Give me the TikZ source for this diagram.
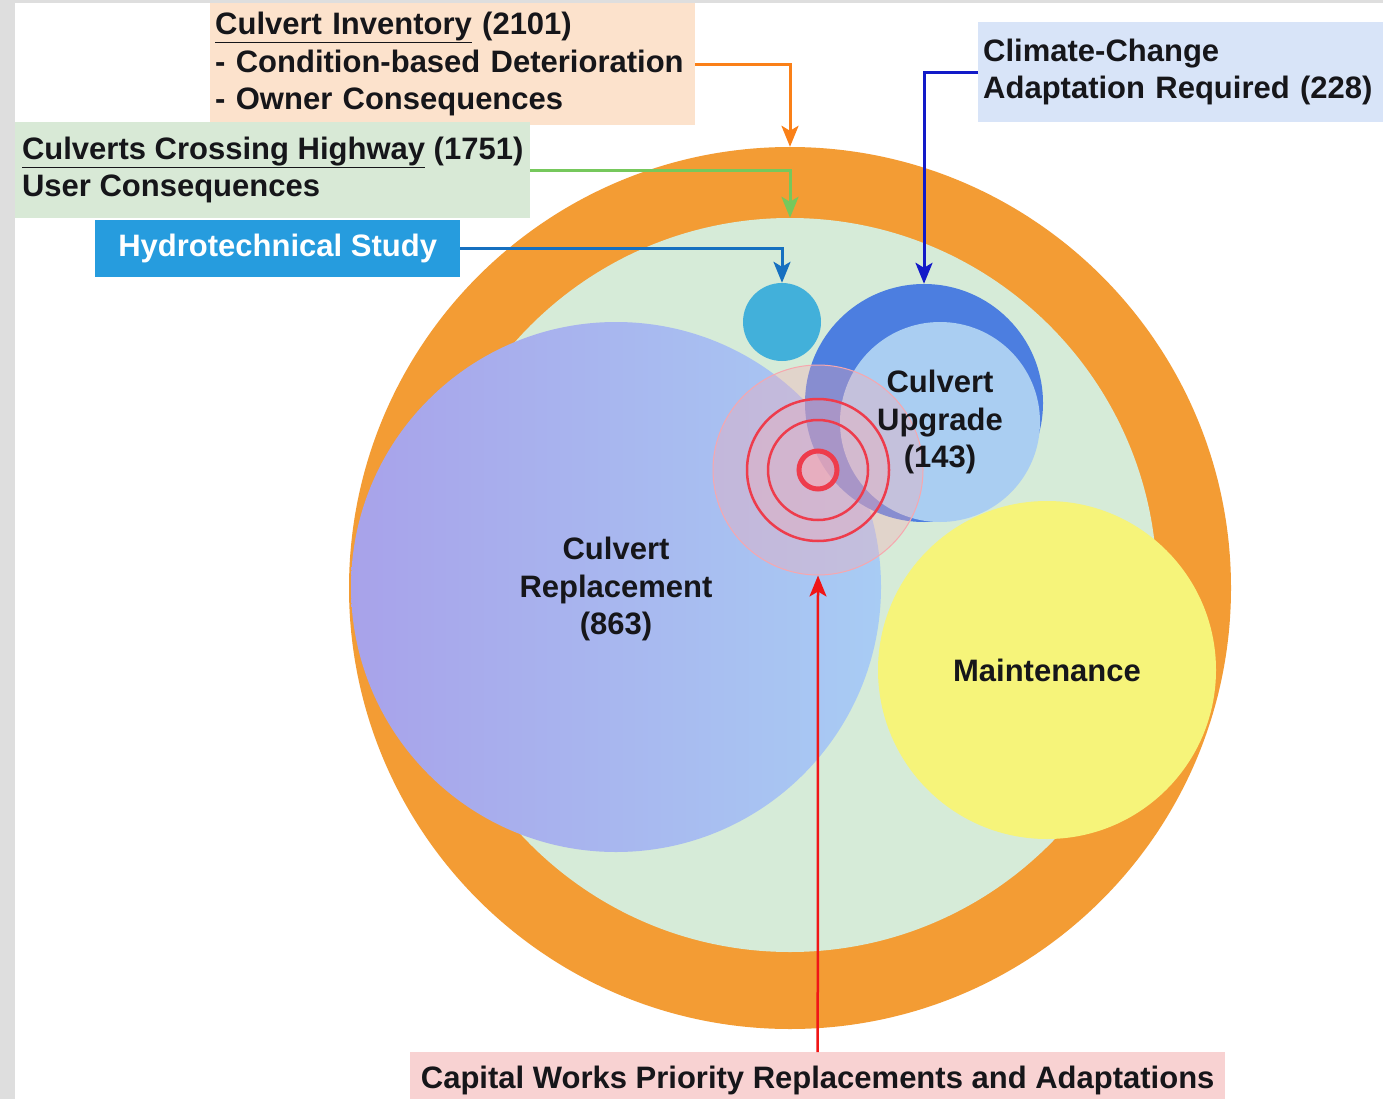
\documentclass[tikz,border=0pt]{standalone}
\usepackage{fontspec}
\setmainfont{Liberation Sans}
\usetikzlibrary{arrows.meta,positioning}
\definecolor{FrameGray}{RGB}{222,222,222}
\definecolor{LabelInk}{RGB}{22,22,26}
\definecolor{RingOrange}{RGB}{243,156,52}
\definecolor{MintGreen}{RGB}{214,235,216}
\definecolor{ReplaceLilac}{RGB}{168,162,234}
\definecolor{ReplaceSky}{RGB}{168,204,244}
\definecolor{HydroTeal}{RGB}{66,176,218}
\definecolor{UpgradeDeep}{RGB}{76,126,224}
\definecolor{UpgradeSoft}{RGB}{170,206,242}
\definecolor{MaintYellow}{RGB}{246,244,122}
\definecolor{GlowPink}{RGB}{246,170,180}
\definecolor{TargetRed}{RGB}{238,60,76}
\definecolor{InventoryPeach}{RGB}{252,226,204}
\definecolor{HighwayMint}{RGB}{216,233,214}
\definecolor{StudyBlue}{RGB}{38,156,222}
\definecolor{ClimateSky}{RGB}{216,228,248}
\definecolor{CapitalPink}{RGB}{248,210,210}
\definecolor{ArrowOrange}{RGB}{250,128,24}
\definecolor{ArrowGreen}{RGB}{118,200,92}
\definecolor{ArrowBlue}{RGB}{22,112,192}
\definecolor{ArrowNavy}{RGB}{18,26,200}
\definecolor{ArrowRed}{RGB}{240,22,22}
\tikzset{
  bubble/.style={circle,inner sep=0pt},
  tag/.style={inner sep=5pt,font=\bfseries\fontsize{31}{37.5}\selectfont,text=LabelInk},
  feed/.style={-{Stealth[length=21pt,width=17pt,inset=5pt]},line width=3pt},
}

\begin{document}
\begin{tikzpicture}[x=1pt,y=-1pt]
  \clip (0,0) rectangle (1383,1099);
  \fill[white] (0,0) rectangle (1383,1099);
  \fill[FrameGray] (0,0) rectangle (15,1099);
  \fill[FrameGray] (0,0) rectangle (1383,3);

  % nested sets, largest first
  \node[bubble,fill=RingOrange,minimum size=882] (ring) at (790,588) {};
  \node[bubble,fill=MintGreen,minimum size=734] (mint) at (790,585) {};
  \node[bubble,left color=ReplaceLilac,right color=ReplaceSky,minimum size=530] (replace) at (616,587) {};
  \node[bubble,fill=HydroTeal,minimum size=78] (hydro) at (782,322) {};
  \node[bubble,fill=UpgradeDeep,minimum size=238] (upring) at (924,403) {};
  \node[bubble,fill=UpgradeSoft,minimum size=200] (upgrade) at (940,422) {};
  \node[bubble,fill=MaintYellow,minimum size=338] (maint) at (1047,670) {};

  % priority target
  \node[bubble,fill=GlowPink,fill opacity=0.35,draw=TargetRed!45,line width=1pt,minimum size=210] (glow) at (818,470) {};
  \fill[GlowPink,opacity=0.3] (glow.center) circle (71);
  \draw[TargetRed,line width=2.5pt] (glow.center) circle (71);
  \draw[TargetRed,line width=2.5pt] (glow.center) circle (50);
  \draw[TargetRed,line width=5pt,fill=GlowPink,fill opacity=0.6] (glow.center) circle (19);

  % circle labels
  \node[tag,align=center] (replacetext) at (616,589) {Culvert\\Replacement\\(863)};
  \node[tag,align=center] (upgradetext) at (upgrade) {Culvert\\Upgrade\\(143)};
  \node[tag] (mainttext) at (maint) {Maintenance};

  % source boxes
  \node[tag,fill=InventoryPeach,anchor=north west,text width=475,minimum height=122,align=left] (inventory) at (210,3)
    {\underline{Culvert Inventory} (2101)\\- Condition-based Deterioration\\- Owner Consequences};
  \node[tag,fill=HighwayMint,anchor=north west,minimum width=515,minimum height=96,align=left] (highway) at (15,122)
    {\underline{Culverts Crossing Highway} (1751)\\User Consequences};
  \node[tag,fill=StudyBlue,text=white,anchor=north west,minimum width=365,minimum height=57] (study) at (95,220)
    {Hydrotechnical Study};
  \node[tag,fill=ClimateSky,anchor=north west,text width=395,minimum height=100,align=left] (climate) at (978,22)
    {Climate-Change\\Adaptation Required (228)};
  \node[tag,fill=CapitalPink,anchor=north west,minimum width=815,minimum height=56] (capital) at (410,1052)
    {Capital Works Priority Replacements and Adaptations};

  % connectors
  \draw[feed,ArrowOrange] (inventory.east) -| (ring.north);
  \draw[feed,ArrowGreen] (highway.east) -| (mint.north);
  \draw[feed,ArrowBlue] (study.east) -| (hydro.north);
  \draw[feed,ArrowNavy] (climate.west) -| (upring.north);
  \draw[feed,ArrowRed,line width=2.5pt] (capital.north) -- (glow.south);
\end{tikzpicture}
\end{document}
